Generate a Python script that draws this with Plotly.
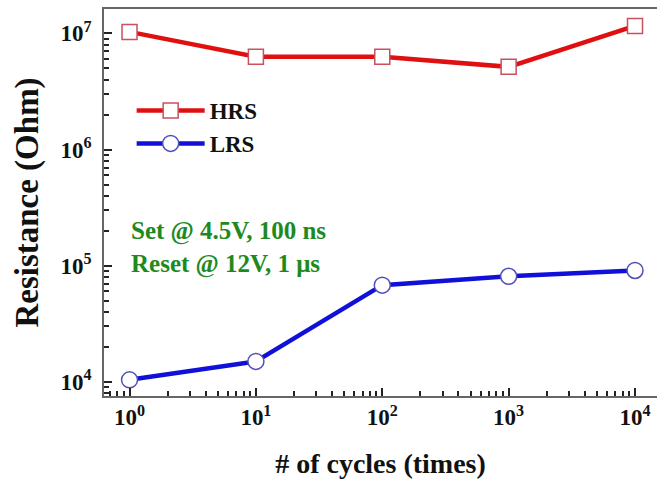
import plotly.graph_objects as go

cycles = [1, 10, 100, 1000, 10000]
hrs = [1.03e7, 6.3e6, 6.3e6, 5.15e6, 1.16e7]
lrs = [1.04e4, 1.5e4, 6.8e4, 8.1e4, 9.1e4]

x_tickvals = [1, 10, 100, 1000, 10000]
x_ticktext = ["10<sup>0</sup>", "10<sup>1</sup>", "10<sup>2</sup>", "10<sup>3</sup>", "10<sup>4</sup>"]
y_tickvals = [1e4, 1e5, 1e6, 1e7]
y_ticktext = ["10<sup>4</sup>", "10<sup>5</sup>", "10<sup>6</sup>", "10<sup>7</sup>"]

notes = ["Set @ 4.5V, 100 ns", "Reset @ 12V, 1 \u03bcs"]

FONT = "Liberation Serif"

fig = go.Figure()
fig.add_trace(go.Scatter(
    x=cycles, y=hrs, name="HRS", mode="lines+markers",
    line=dict(color="#e01010", width=4.5),
    marker=dict(symbol="square", size=15, color="white",
                line=dict(color="#c85060", width=1.5)),
))
fig.add_trace(go.Scatter(
    x=cycles, y=lrs, name="LRS", mode="lines+markers",
    line=dict(color="#1010d8", width=4.5),
    marker=dict(symbol="circle", size=16, color="white",
                line=dict(color="#5050b8", width=1.5)),
))

axis_common = dict(
    showgrid=False, zeroline=False,
    showline=True, linecolor="#666666", linewidth=1.5,
    ticks="inside", ticklen=8, tickwidth=2, tickcolor="#222222",
    tickfont=dict(family=FONT, size=23, color="#111111", weight="bold"),
)

fig.update_xaxes(
    type="log", range=[-0.202, 4.174],
    tickvals=x_tickvals, ticktext=x_ticktext,
    mirror=True,
    minor=dict(ticks="inside", ticklen=5, tickwidth=1.5, tickcolor="#222222", dtick="D1", showgrid=False),
    title=dict(text="# of cycles (times)", font=dict(family=FONT, size=28, color="#111111", weight="bold"), standoff=24),
    **axis_common,
)
fig.update_yaxes(
    type="log", range=[3.878, 7.21],
    tickvals=y_tickvals, ticktext=y_ticktext,
    minor=dict(ticks="inside", ticklen=5, tickwidth=1.5, tickcolor="#222222", dtick="D1", showgrid=False),
    title=dict(text="Resistance (Ohm)", font=dict(family=FONT, size=33, color="#111111", weight="bold"), standoff=12),
    ticklabelstandoff=6,
    **axis_common,
)

for i, t in enumerate(notes):
    fig.add_annotation(
        text=t, xref="paper", yref="paper", x=0.046, y=0.4264 - i * 0.0853,
        xanchor="left", yanchor="middle", showarrow=False,
        font=dict(family=FONT, size=25, color="#1e8a1e", weight="bold"),
    )

fig.update_layout(
    width=657, height=487,
    margin=dict(l=104, r=0, t=9, b=91, autoexpand=False),
    paper_bgcolor="white", plot_bgcolor="white",
    showlegend=True,
    legend=dict(x=0.05, y=0.695, xanchor="left", yanchor="middle",
                bgcolor="rgba(0,0,0,0)", borderwidth=0,
                font=dict(family=FONT, size=23, color="#111111", weight="bold"),
                itemwidth=68, tracegroupgap=0),
)

fig.write_html("out.html", config={"displayModeBar": False},
               post_script="document.body.style.margin='0';document.body.style.overflow='hidden';")
